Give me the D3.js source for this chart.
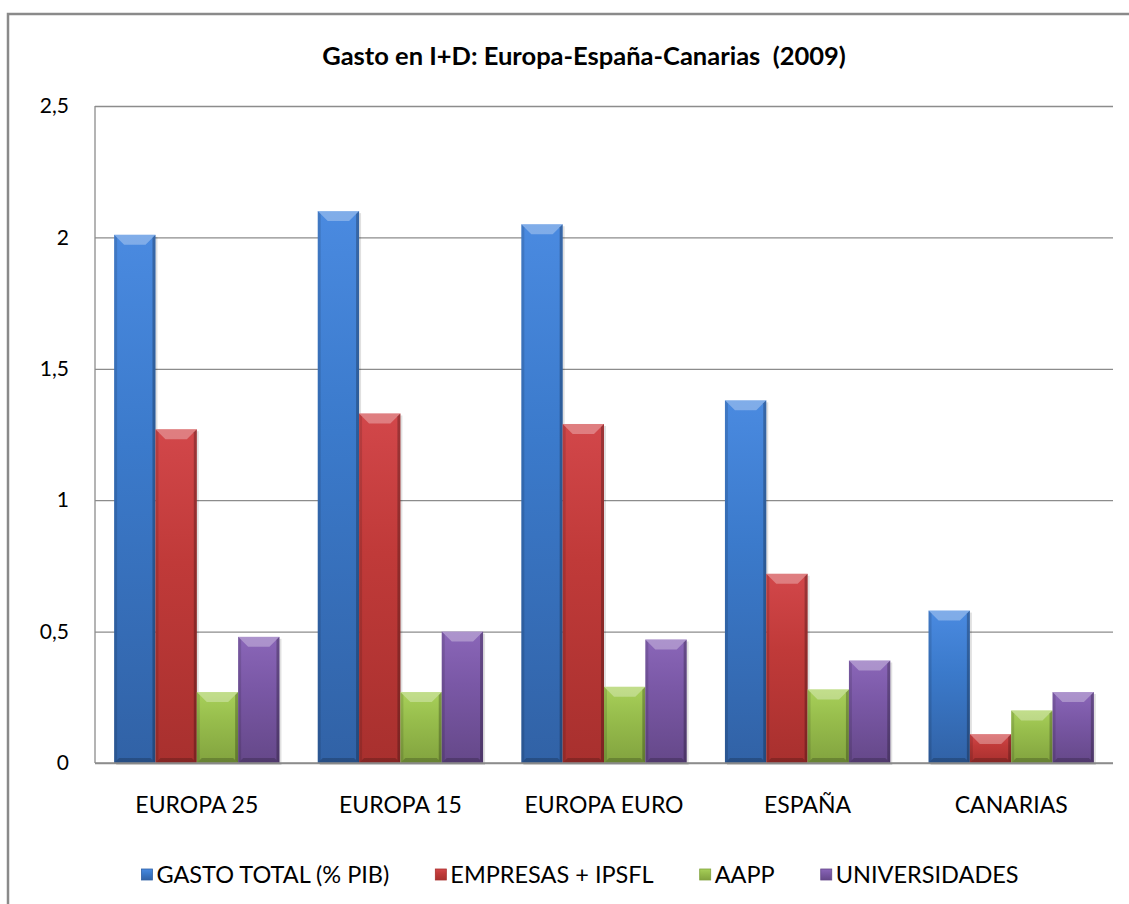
<!DOCTYPE html>
<html>
<head>
<meta charset="utf-8">
<script src="https://cdn.jsdelivr.net/npm/d3@7"></script>
<style>
  body { margin: 0; background: #fff; }
  text { font-family: Lato, "Open Sans", sans-serif; fill: #000; }
</style>
</head>
<body>
<svg width="1129" height="904"></svg>
<script>
// data
const categories = ['EUROPA 25', 'EUROPA 15', 'EUROPA EURO', 'ESPAÑA', 'CANARIAS'];
const seriesNames = ['GASTO TOTAL (% PIB)', 'EMPRESAS + IPSFL', 'AAPP', 'UNIVERSIDADES'];
const gastoTotal = [2.01, 2.1, 2.05, 1.38, 0.58];
const empresas = [1.27, 1.33, 1.29, 0.72, 0.11];
const aapp = [0.27, 0.27, 0.29, 0.28, 0.2];
const universidades = [0.48, 0.5, 0.47, 0.39, 0.27];
const yTicks = [0, 0.5, 1, 1.5, 2, 2.5];

const colors = [
  { top: '#4a8ae0', mid: '#3b7acb', bot: '#3162a6' },
  { top: '#d2474a', mid: '#c03a39', bot: '#a8302e' },
  { top: '#a8d05a', mid: '#97bd4c', bot: '#82a33f' },
  { top: '#8a66b8', mid: '#7a58a6', bot: '#654889' }
];

const svg = d3.select('svg');
const width = +svg.attr('width');
const height = +svg.attr('height');
const margin = { top: 106, right: 16, bottom: 141, left: 95 };
const innerWidth = width - margin.left - margin.right;
const innerHeight = height - margin.top - margin.bottom;

const valuesBySeries = [gastoTotal, empresas, aapp, universidades];
const data = categories.map((c, i) => ({
  category: c,
  values: valuesBySeries.map((arr, s) => ({ s, v: arr[i] }))
}));

// outer chart frame
svg.append('path')
  .attr('d', `M8,${height} V14 H${width}`)
  .attr('fill', 'none')
  .attr('stroke', '#8a8a8a')
  .attr('stroke-width', 2.5);

svg.append('text')
  .attr('x', 584)
  .attr('y', 65)
  .attr('text-anchor', 'middle')
  .attr('font-size', 25.5)
  .attr('font-weight', 'bold')
  .style('white-space', 'pre')
  .text('Gasto en I+D: Europa-España-Canarias  (2009)');

const defs = svg.append('defs');
colors.forEach((c, i) => {
  const gr = defs.append('linearGradient')
    .attr('id', 'grad' + i)
    .attr('x1', 0).attr('y1', 0).attr('x2', 0).attr('y2', 1);
  gr.append('stop').attr('offset', '0%').attr('stop-color', c.top);
  gr.append('stop').attr('offset', '40%').attr('stop-color', c.mid);
  gr.append('stop').attr('offset', '100%').attr('stop-color', c.bot);
});

const g = svg.append('g')
  .attr('transform', `translate(${margin.left},${margin.top})`);

const xScale = d3.scaleBand()
  .domain(categories)
  .range([0, innerWidth])
  .paddingInner(0.188)
  .paddingOuter(0.094);

const xSub = d3.scaleBand()
  .domain(d3.range(seriesNames.length))
  .range([0, xScale.bandwidth()]);

const yScale = d3.scaleLinear()
  .domain([0, 2.5])
  .range([innerHeight, 0]);

const yAxis = d3.axisLeft(yScale)
  .tickValues(yTicks)
  .tickSize(-innerWidth)
  .tickPadding(26)
  .tickFormat(d => String(d).replace('.', ','));

const yAxisG = g.append('g').call(yAxis);
yAxisG.select('.domain').remove();
yAxisG.selectAll('.tick line').attr('stroke', '#8c8c8c').attr('stroke-width', 1.3);
yAxisG.selectAll('.tick text')
  .attr('font-size', 21)
  .attr('fill', '#000')
  .style('font-family', 'Lato, sans-serif');

// plot area left border
g.append('line')
  .attr('x1', 0).attr('x2', 0)
  .attr('y1', 0).attr('y2', innerHeight)
  .attr('stroke', '#8c8c8c')
  .attr('stroke-width', 1.3);

const groups = g.selectAll('.group').data(data)
  .enter().append('g')
    .attr('class', 'group')
    .attr('transform', d => `translate(${xScale(d.category)},0)`);

const bars = groups.selectAll('.bar').data(d => d.values)
  .enter().append('g')
    .attr('class', 'bar')
    .attr('transform', d => `translate(${xSub(d.s)},${yScale(d.v)})`);

const bw = xSub.bandwidth();
const bevel = 10;
const barH = d => innerHeight - yScale(d.v);

bars.append('rect')
  .attr('x', 2).attr('y', 2)
  .attr('width', bw)
  .attr('height', barH)
  .attr('fill', 'rgba(0,0,0,0.12)');

bars.append('rect')
  .attr('width', bw)
  .attr('height', barH)
  .attr('fill', d => `url(#grad${d.s})`);

// top bevel
bars.append('polygon')
  .attr('points', d => {
    const b = Math.min(bevel, barH(d) / 2);
    return `0,0 ${bw},0 ${bw - b},${b} ${b},${b}`;
  })
  .attr('fill', 'rgba(255,255,255,0.3)');

// right bevel
bars.append('polygon')
  .attr('points', d => {
    const h = barH(d);
    const b = Math.min(3, h / 2);
    return `${bw},0 ${bw},${h} ${bw - b},${h - b} ${bw - b},${b}`;
  })
  .attr('fill', 'rgba(0,0,0,0.25)');

// left bevel
bars.append('polygon')
  .attr('points', d => {
    const h = barH(d);
    const b = Math.min(3, h / 2);
    return `0,0 ${b},${b} ${b},${h - b} 0,${h}`;
  })
  .attr('fill', 'rgba(0,0,0,0.12)');

// bottom bevel
bars.append('polygon')
  .attr('points', d => {
    const h = barH(d);
    const b = Math.min(5, h / 2);
    return `0,${h} ${bw},${h} ${bw - b},${h - b} ${b},${h - b}`;
  })
  .attr('fill', 'rgba(0,0,0,0.2)');

const xAxis = d3.axisBottom(xScale).tickSize(0).tickPadding(34);
const xAxisG = g.append('g')
  .attr('transform', `translate(0,${innerHeight})`)
  .call(xAxis);
xAxisG.select('.domain').remove();
xAxisG.selectAll('.tick text')
  .attr('font-size', 23)
  .attr('fill', '#000')
  .style('font-family', 'Lato, sans-serif');

// zero line on top of bars
g.append('line')
  .attr('x1', 0).attr('x2', innerWidth)
  .attr('y1', innerHeight).attr('y2', innerHeight)
  .attr('stroke', '#8c8c8c')
  .attr('stroke-width', 1.3);

// legend
const legend = svg.append('g').attr('class', 'legend');
const items = legend.selectAll('g').data(seriesNames)
  .enter().append('g');
items.append('rect')
  .attr('y', -14)
  .attr('width', 11).attr('height', 11)
  .attr('fill', (d, i) => `url(#grad${i})`)
  .attr('stroke', (d, i) => colors[i].bot)
  .attr('stroke-width', 0.8);
items.append('text')
  .attr('x', 15)
  .attr('font-size', 23.5)
  .text(d => d);

let xPos = 0;
const gap = 46;
items.each(function() {
  const w = this.getBBox().width;
  d3.select(this).attr('transform', `translate(${xPos},0)`);
  xPos += w + gap;
});
const totalW = xPos - gap;
legend.attr('transform', `translate(${580 - totalW / 2},883)`);
</script>
</body>
</html>
